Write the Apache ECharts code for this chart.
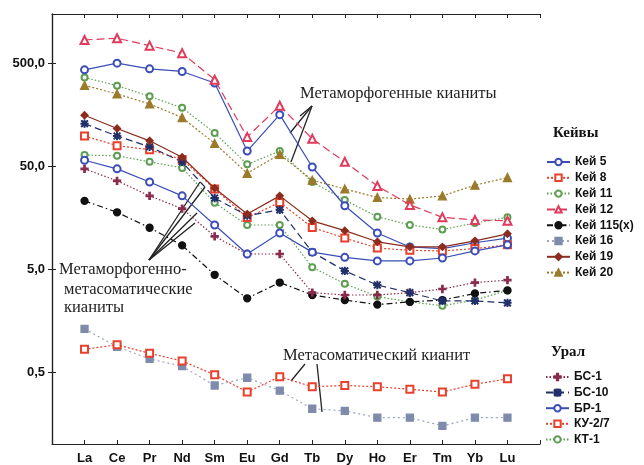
<!DOCTYPE html>
<html>
<head>
<meta charset="utf-8">
<script src="https://cdn.jsdelivr.net/npm/echarts@6/dist/echarts.min.js"></script>
<style>html,body{margin:0;padding:0;background:#fff}#c{width:644px;height:465px}</style>
</head>
<body>
<div id="c"></div>
<script>
// ---- data ----
const elements = ['La','Ce','Pr','Nd','Sm','Eu','Gd','Tb','Dy','Ho','Er','Tm','Yb','Lu'];
const yTicks = [0.5, 5, 50, 500];
const kei5   = [430, 500, 440, 415, 321, 70, 158, 49, 20.6, 11.2, 8.2, 7.9, 9.0, 10.0];
const kei8   = [98, 79, 72, 58, 30, 15.8, 22.2, 12.7, 10.0, 8.0, 7.6, 7.5, 7.9, 8.6];
const kei11  = [363, 302, 238, 184, 105, 52, 70, 35, 23.4, 16.1, 13.4, 12.1, 14.0, 15.9];
const kei12  = [840, 873, 739, 625, 345, 96, 193, 92, 55, 32, 21, 15.9, 15.0, 14.7];
const kei115 = [23, 17.8, 12.6, 8.5, 4.4, 2.6, 3.7, 2.8, 2.5, 2.26, 2.4, 2.5, 2.9, 3.1];
const kei16  = [1.31, 0.88, 0.67, 0.57, 0.37, 0.44, 0.33, 0.22, 0.21, 0.18, 0.18, 0.15, 0.18, 0.18];
const kei19  = [156, 116, 88, 61, 30.5, 17.1, 25.7, 14.7, 11.8, 9.2, 8.2, 8.2, 9.4, 11.0];
const kei20  = [304, 251, 201, 148, 83, 42.6, 65, 36.5, 30, 24.8, 23.9, 25.7, 32.6, 38.7];
const bs1    = [47, 36, 25.7, 19.3, 10.4, 7.0, 7.0, 2.95, 2.8, 2.8, 2.95, 3.2, 3.7, 3.9];
const bs10   = [129, 98, 77, 55, 24.5, 16.5, 18.8, 7.3, 4.8, 3.5, 2.95, 2.45, 2.45, 2.35];
const br1    = [57, 47, 35, 25.7, 13.4, 7.0, 11.2, 7.3, 6.5, 6.0, 6.0, 6.4, 7.5, 8.6];
const ku27   = [0.83, 0.92, 0.76, 0.64, 0.47, 0.32, 0.45, 0.36, 0.37, 0.36, 0.34, 0.32, 0.38, 0.43];
const kt1    = [64, 63, 55, 48, 22, 13.4, 13.4, 5.2, 3.6, 2.7, 2.4, 2.2, 2.5, 3.1];
const keiNames  = ['Кей 5','Кей 8','Кей 11','Кей 12','Кей 115(х)','Кей 16','Кей 19','Кей 20'];
const uralNames = ['БС-1','БС-10','БР-1','КУ-2/7','КТ-1'];

// ---- styles ----
const PLUS = 'path://M4,0H6V4H10V6H6V10H4V6H0V4H4Z';
const STAR = 'path://M4.5,0H5.5V10H4.5Z M0,4.5H10V5.5H0Z M1.2,0.5L9.5,8.8L8.8,9.5L0.5,1.2Z M8.8,0.5L9.5,1.2L1.2,9.5L0.5,8.8Z';
const styles = {
  'Кей 5':      {c:'#3b4db8', t:'solid',        s:'emptyCircle',   z:7},
  'Кей 8':      {c:'#e8402c', t:[2,2],          s:'emptyRect',     z:7},
  'Кей 11':     {c:'#5e9e52', t:[1.5,2],        s:'emptyCircle',   z:6},
  'Кей 12':     {c:'#e03a5c', t:[8,4],          s:'emptyTriangle', z:8},
  'Кей 115(х)': {c:'#111111', t:[6,3,1.5,3],    s:'circle',        z:7},
  'Кей 16':     {c:'#7f8bab', t:[2,3],          s:'rect',          z:6, lc:'#9ba5bf'},
  'Кей 19':     {c:'#8c2c1e', t:'solid',        s:'diamond',       z:8},
  'Кей 20':     {c:'#9b7a2a', t:[2,2],          s:'triangle',      z:7},
  'БС-1':       {c:'#8a2b4e', t:[1.5,2],        s:PLUS,            z:7},
  'БС-10':      {c:'#22306a', t:[7,4],          s:STAR,            z:7},
  'БР-1':       {c:'#3b4db8', t:'solid',        s:'emptyCircle',   z:7},
  'КУ-2/7':     {c:'#e8402c', t:[2,2],          s:'emptyRect',     z:7},
  'КТ-1':       {c:'#5e9e52', t:[1.5,2],        s:'emptyCircle',   z:6}
};
const values = {
  'Кей 5':kei5,'Кей 8':kei8,'Кей 11':kei11,'Кей 12':kei12,'Кей 115(х)':kei115,'Кей 16':kei16,
  'Кей 19':kei19,'Кей 20':kei20,'БС-1':bs1,'БС-10':bs10,'БР-1':br1,'КУ-2/7':ku27,'КТ-1':kt1
};
function symSize(s){
  if (s==='emptyCircle') return 7;
  if (s==='emptyRect') return 7;
  if (s==='emptyTriangle') return 8;
  if (s==='diamond') return 7;
  if (s==='triangle') return 8;
  if (s==='circle') return 7;
  if (s==='rect') return 7;
  return 7;
}
const series = keiNames.concat(uralNames).map(function(name){
  const st = styles[name];
  return {
    name: name, type: 'line',
    data: values[name].map(function(v,i){ return [i+1, v]; }),
    symbol: st.s, symbolSize: (name==='Кей 11'||name==='КТ-1') ? 6 : symSize(st.s),
    showAllSymbol: true, z: st.z,
    lineStyle: {color: st.lc || st.c, width: 1.2, type: st.t},
    itemStyle: {color: st.c, borderColor: st.c, borderWidth: 1.3},
    emphasis: {disabled: true}
  };
});

const labelFont = {fontFamily:'Liberation Sans, Arial, sans-serif', fontWeight:'bold', fontSize:13, color:'#111'};
const serif = 'Liberation Serif, Times New Roman, serif';
const axisLine = {show:true, lineStyle:{color:'#222', width:1.2}};
const tick = {show:true, inside:true, length:4, lineStyle:{color:'#222', width:1}};

const option = {
  animation: false,
  backgroundColor: '#fff',
  grid: {left:52, right:104, top:14, bottom:19, show:false},
  xAxis: [
    {type:'value', min:0, max:15, interval:1, position:'bottom',
     axisLine: axisLine, axisTick: tick, splitLine:{show:false},
     axisLabel: Object.assign({margin:8, formatter: function(v){ return elements[v-1] || ''; }}, labelFont)},
    {type:'value', min:0, max:15, interval:1, position:'top',
     axisLine: axisLine, axisTick: tick, splitLine:{show:false}, axisLabel:{show:false}}
  ],
  yAxis: [
    {type:'log', logBase:10, min:0.1, max:1500, position:'left',
     axisLine: axisLine, splitLine:{show:false}, minorTick:{show:false},
     axisTick: Object.assign({customValues: yTicks}, tick),
     axisLabel: Object.assign({margin:7, customValues: yTicks,
        formatter: function(v){ return Number(v).toFixed(1).replace('.', ','); }}, labelFont)},
    {type:'log', logBase:10, min:0.1, max:1500, position:'right',
     axisLine: axisLine, splitLine:{show:false}, minorTick:{show:false},
     axisTick: Object.assign({customValues: yTicks}, tick),
     axisLabel:{show:false, customValues: yTicks}}
  ],
  title: [
    {text:'Кейвы', left:553, top:126, padding:0, textStyle:{fontFamily:serif, fontWeight:'bold', fontSize:15, color:'#111'}},
    {text:'Урал', left:551, top:345, padding:0, textStyle:{fontFamily:serif, fontWeight:'bold', fontSize:15, color:'#111'}}
  ],
  legend: [
    {data: keiNames, left:546, top:155, orient:'vertical', padding:0, itemWidth:23, itemHeight:8, itemGap:1.8, itemTextGap:6,
     selectedMode:false, textStyle:{fontFamily:'Liberation Sans, Arial, sans-serif', fontWeight:'bold', fontSize:12, color:'#111', lineHeight:14}},
    {data: uralNames, left:545, top:370, orient:'vertical', padding:0, itemWidth:23, itemHeight:8, itemGap:1.6, itemTextGap:5,
     selectedMode:false, textStyle:{fontFamily:'Liberation Sans, Arial, sans-serif', fontWeight:'bold', fontSize:12, color:'#111', lineHeight:14}}
  ],
  graphic: [
    {type:'text', left:300, top:85, style:{text:'Метаморфогенные кианиты', font:'16.5px '+serif, fill:'#222'}},
    {type:'line', shape:{x1:312,y1:106,x2:290,y2:133}, style:{stroke:'#222', lineWidth:1.3}},
    {type:'line', shape:{x1:312,y1:106,x2:291,y2:162}, style:{stroke:'#222', lineWidth:1.3}},
    {type:'line', shape:{x1:312,y1:106,x2:300,y2:116}, style:{stroke:'#222', lineWidth:1.3}},

    {type:'text', left:59, top:261, style:{text:'Метаморфогенно-', font:'16.5px '+serif, fill:'#222'}},
    {type:'text', left:64, top:281, style:{text:'метасоматические', font:'16.5px '+serif, fill:'#222'}},
    {type:'text', left:64, top:299, style:{text:'кианиты', font:'16.5px '+serif, fill:'#222'}},
    {type:'line', shape:{x1:149,y1:260,x2:200,y2:182}, style:{stroke:'#222', lineWidth:1.3}},
    {type:'line', shape:{x1:149,y1:260,x2:205,y2:187}, style:{stroke:'#222', lineWidth:1.3}},
    {type:'line', shape:{x1:149,y1:260,x2:197,y2:213}, style:{stroke:'#222', lineWidth:1.3}},
    {type:'line', shape:{x1:149,y1:260,x2:195,y2:223}, style:{stroke:'#222', lineWidth:1.3}},

    {type:'text', left:283, top:347, style:{text:'Метасоматический кианит', font:'16.5px '+serif, fill:'#222'}},
    {type:'line', shape:{x1:305,y1:364,x2:291,y2:381}, style:{stroke:'#222', lineWidth:1.3}},
    {type:'line', shape:{x1:317,y1:364,x2:322,y2:412}, style:{stroke:'#222', lineWidth:1.3}}
  ],
  series: series
};
const chart = echarts.init(document.getElementById('c'), null, {renderer:'canvas'});
chart.setOption(option);
</script>
</body>
</html>
